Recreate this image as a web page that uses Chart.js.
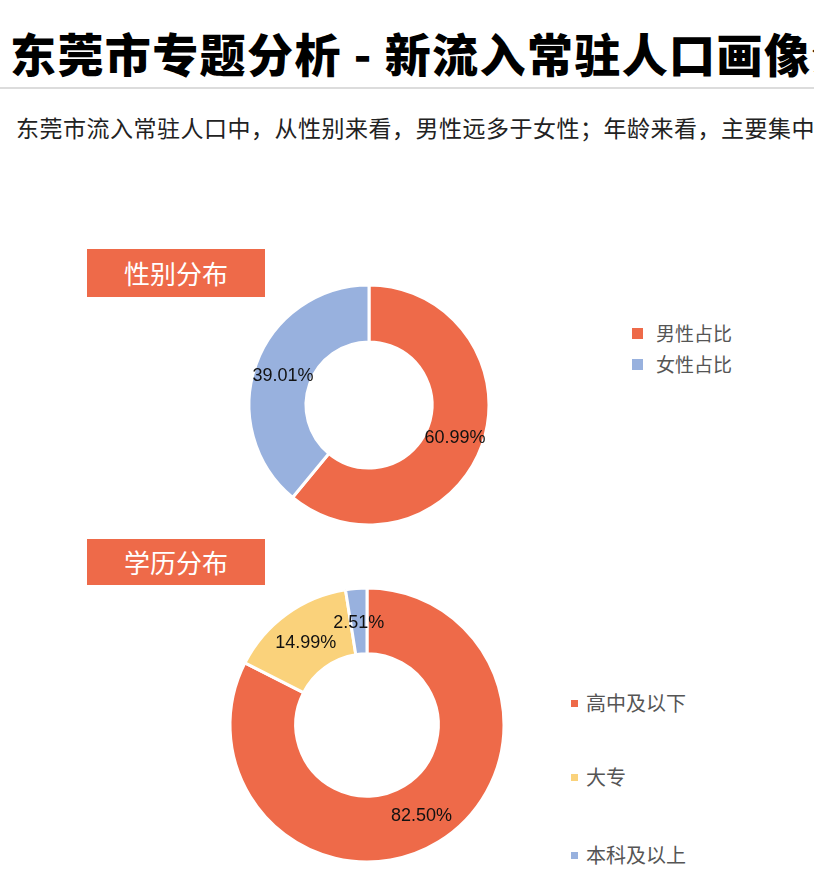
<!DOCTYPE html>
<html>
<head>
<meta charset="utf-8">
<script src="https://cdn.jsdelivr.net/npm/chart.js@4"></script>
<style>
  html, body { margin: 0; padding: 0; background: #fff; }
  body { width: 814px; height: 895px; position: relative; overflow: hidden;
         font-family: "Noto Sans CJK SC", "Noto Sans", sans-serif; }
  .title { position: absolute; left: 10px; top: 29px; height: 46px; line-height: 46px;
           font-size: 46px; font-weight: 900; color: #000; white-space: nowrap; letter-spacing: 1.4px; }
  .rule { position: absolute; left: 0; top: 87px; width: 814px; height: 2px; background: #dcdcdc; }
  .sub { position: absolute; left: 16px; top: 115px; line-height: 24px; font-size: 23px;
         color: #222; white-space: nowrap; letter-spacing: 0.5px; }
  .tag { position: absolute; left: 87px; width: 178px; height: 48px; line-height: 48px;
         background: #ee6a49; color: #fff; font-size: 26px; text-align: center; z-index: 2; }
  .box { position: absolute; }
  .leg { position: absolute; font-size: 19px; color: #555; white-space: nowrap; }
  .leg span.m { position: absolute; }
</style>
</head>
<body>
<div class="title">东莞市专题分析 - 新流入常驻人口画像分析</div>
<div class="rule"></div>
<div class="sub">东莞市流入常驻人口中，从性别来看，男性远多于女性；年龄来看，主要集中在青壮年</div>

<div class="tag" style="top:249px">性别分布</div>
<div class="tag" style="top:539px;height:46px;line-height:46px">学历分布</div>

<div class="box" style="left:219px;top:255px;width:300px;height:300px"><canvas id="genderChart"></canvas></div>
<div class="box" style="left:217px;top:575px;width:300px;height:300px"><canvas id="eduChart"></canvas></div>

<div id="genderLegend"></div>
<div id="eduLegend"></div>

<script>
const genderLabels = ["男性占比", "女性占比"];
const genderValues = [60.99, 39.01];
const genderColors = ["#ee6a49", "#98b1de"];

const eduLabels = ["高中及以下", "大专", "本科及以上"];
const eduValues = [82.50, 14.99, 2.51];
const eduColors = ["#ee6a49", "#fad27b", "#98b1de"];

// percentage text in the middle of each ring segment
const sliceLabels = {
    id: "sliceLabels",
    afterDatasetsDraw(chart) {
        const ctx = chart.ctx;
        const meta = chart.getDatasetMeta(0);
        const values = chart.data.datasets[0].data;
        ctx.save();
        ctx.font = "18px 'Liberation Sans', Arial, sans-serif";
        ctx.fillStyle = "#111";
        ctx.textAlign = "center";
        ctx.textBaseline = "middle";
        meta.data.forEach(function (arc, i) {
            const p = arc.tooltipPosition();
            ctx.fillText(values[i].toFixed(2) + "%", p.x, p.y + 2);
        });
        ctx.restore();
    }
};

function makeDoughnut(id, labels, values, colors, radius, cutout) {
    new Chart(document.getElementById(id), {
        type: "doughnut",
        data: {
            labels: labels,
            datasets: [{
                data: values,
                backgroundColor: colors,
                borderColor: "#fff",
                borderWidth: 3,
                hoverOffset: 0
            }]
        },
        options: {
            responsive: true,
            maintainAspectRatio: false,
            animation: false,
            radius: radius,
            cutout: cutout,
            layout: { padding: 0 },
            plugins: {
                legend: { display: false },
                tooltip: { enabled: false }
            }
        },
        plugins: [sliceLabels]
    });
}

function makeLegend(id, labels, colors, x, rows, markSize, textX, fontSize) {
    const wrap = document.getElementById(id);
    labels.forEach(function (lab, i) {
        const el = document.createElement("div");
        el.className = "leg";
        el.style.left = x + "px";
        el.style.top = (rows[i] - 14) + "px";
        el.style.height = "28px";
        el.style.lineHeight = "28px";
        el.style.fontSize = fontSize + "px";
        const m = document.createElement("span");
        m.className = "m";
        m.style.left = "0px";
        m.style.top = (14 - markSize / 2) + "px";
        m.style.width = markSize + "px";
        m.style.height = markSize + "px";
        m.style.background = colors[i];
        const t = document.createElement("span");
        t.style.marginLeft = (textX - x) + "px";
        t.textContent = lab;
        el.appendChild(m);
        el.appendChild(t);
        wrap.appendChild(el);
    });
}

makeDoughnut("genderChart", genderLabels, genderValues, genderColors, 120, "52.5%");
makeDoughnut("eduChart", eduLabels, eduValues, eduColors, 137, "52%");

makeLegend("genderLegend", genderLabels, genderColors, 632, [333, 364], 11, 656, 19);
makeLegend("eduLegend", eduLabels, eduColors, 571, [703, 777, 855], 7, 586, 20);
</script>
</body>
</html>
